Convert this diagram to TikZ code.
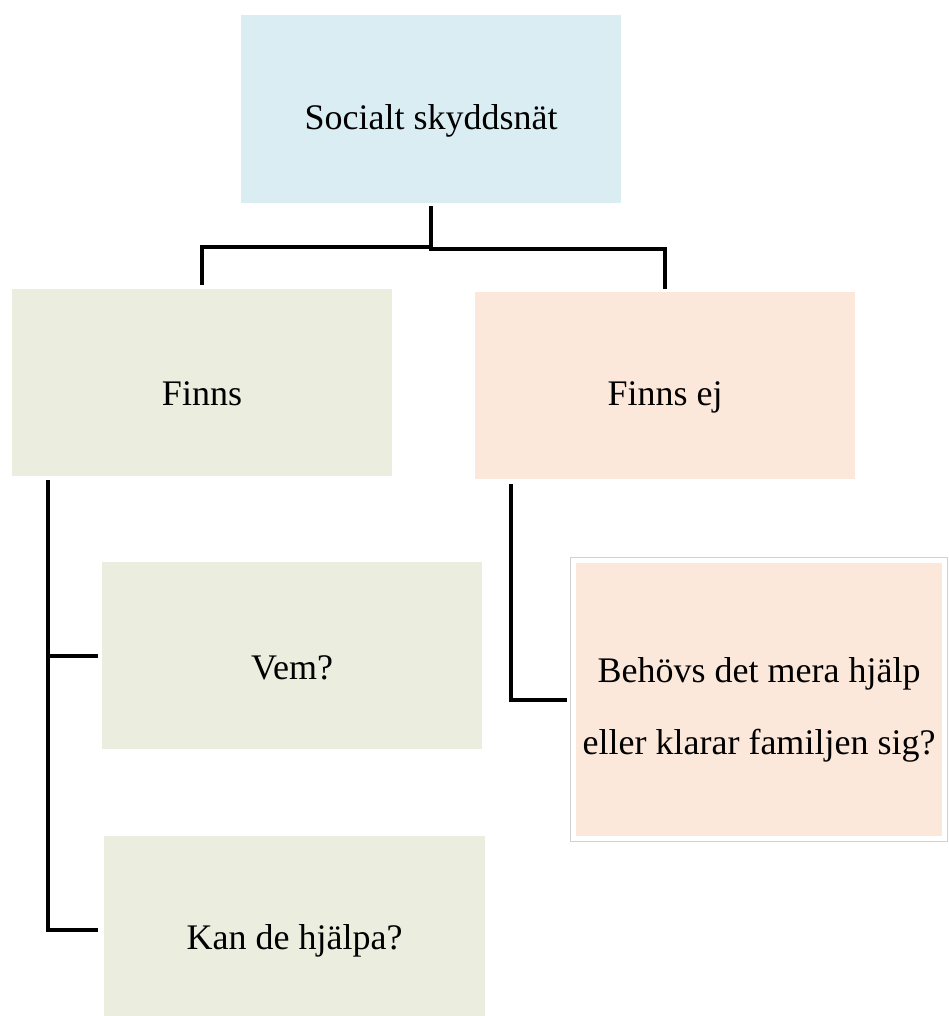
\documentclass[tikz,border=0pt]{standalone}
\usepackage{fontspec}
\setmainfont{Liberation Serif}
\usetikzlibrary{calc}
\definecolor{boxblue}{HTML}{DAEDF2}
\definecolor{boxgreen}{HTML}{EBEEDE}
\definecolor{boxpeach}{HTML}{FCE8DA}
\begin{document}
\begin{tikzpicture}[x=1pt,y=-1pt,
  box/.style={rectangle, inner sep=0pt, minimum width=380pt, minimum height=187pt},
  txt/.style={font=\fontsize{36}{72}\selectfont, align=center, inner sep=0pt},
  conn/.style={line width=4pt, line cap=rect, line join=miter, black}]
\useasboundingbox (0,0) rectangle (948,1016);
% boxes
\node[box, fill=boxblue, minimum height=188pt] (top) at (431,109) {};
\node[box, fill=boxgreen] (finns) at (202,382.5) {};
\node[box, fill=boxpeach] (finnsej) at (665,385.5) {};
\node[box, fill=boxgreen] (vem) at (292,655.5) {};
\node[box, fill=boxgreen, minimum width=381pt] (kan) at (294.5,929.5) {};
\node[box, fill=white, draw=gray!35, line width=0.8pt, minimum width=377pt, minimum height=284pt] (beh) at (759,699.5) {};
\fill[boxpeach] ($(beh.south west)+(5.5,-6)$) rectangle ($(beh.north east)+(-5.5,6)$);
% texts
\node[txt] (ttop) at ($(top.center)+(0,12)$) {Socialt skyddsnät};
\node[txt] (tfinns) at ($(finns.center)+(0,11)$) {Finns};
\node[txt] (tfinnsej) at ($(finnsej.center)+(0,12)$) {Finns ej};
\node[txt] (tvem) at ($(vem.center)+(0,12)$) {Vem?};
\node[txt] (tkan) at ($(kan.center)+(0,11)$) {Kan de hjälpa?};
\node[txt] (tbeh) at ($(beh.center)+(0,10)$) {Behövs det mera hjälp\\eller klarar familjen sig?};
% connectors
\coordinate (h1) at (0,247);
\coordinate (h2) at (0,249);
\draw[conn] ([yshift=-5pt]top.south) -- (top.south |- h1) -| ([yshift=6pt]finns.north);
\draw[conn] (top.south |- h1) -- (top.south |- h2) -| ([yshift=5pt]finnsej.north);
\coordinate (lt) at ($(finns.south west)+(36,6)$);
\draw[conn] (lt) |- ([xshift=-6pt]vem.west);
\draw[conn] (lt) |- ([xshift=-8pt]kan.west);
\coordinate (rt) at ($(finnsej.south west)+(36,7)$);
\draw[conn] (rt) |- ([xshift=-5pt]beh.west);
\end{tikzpicture}
\end{document}
